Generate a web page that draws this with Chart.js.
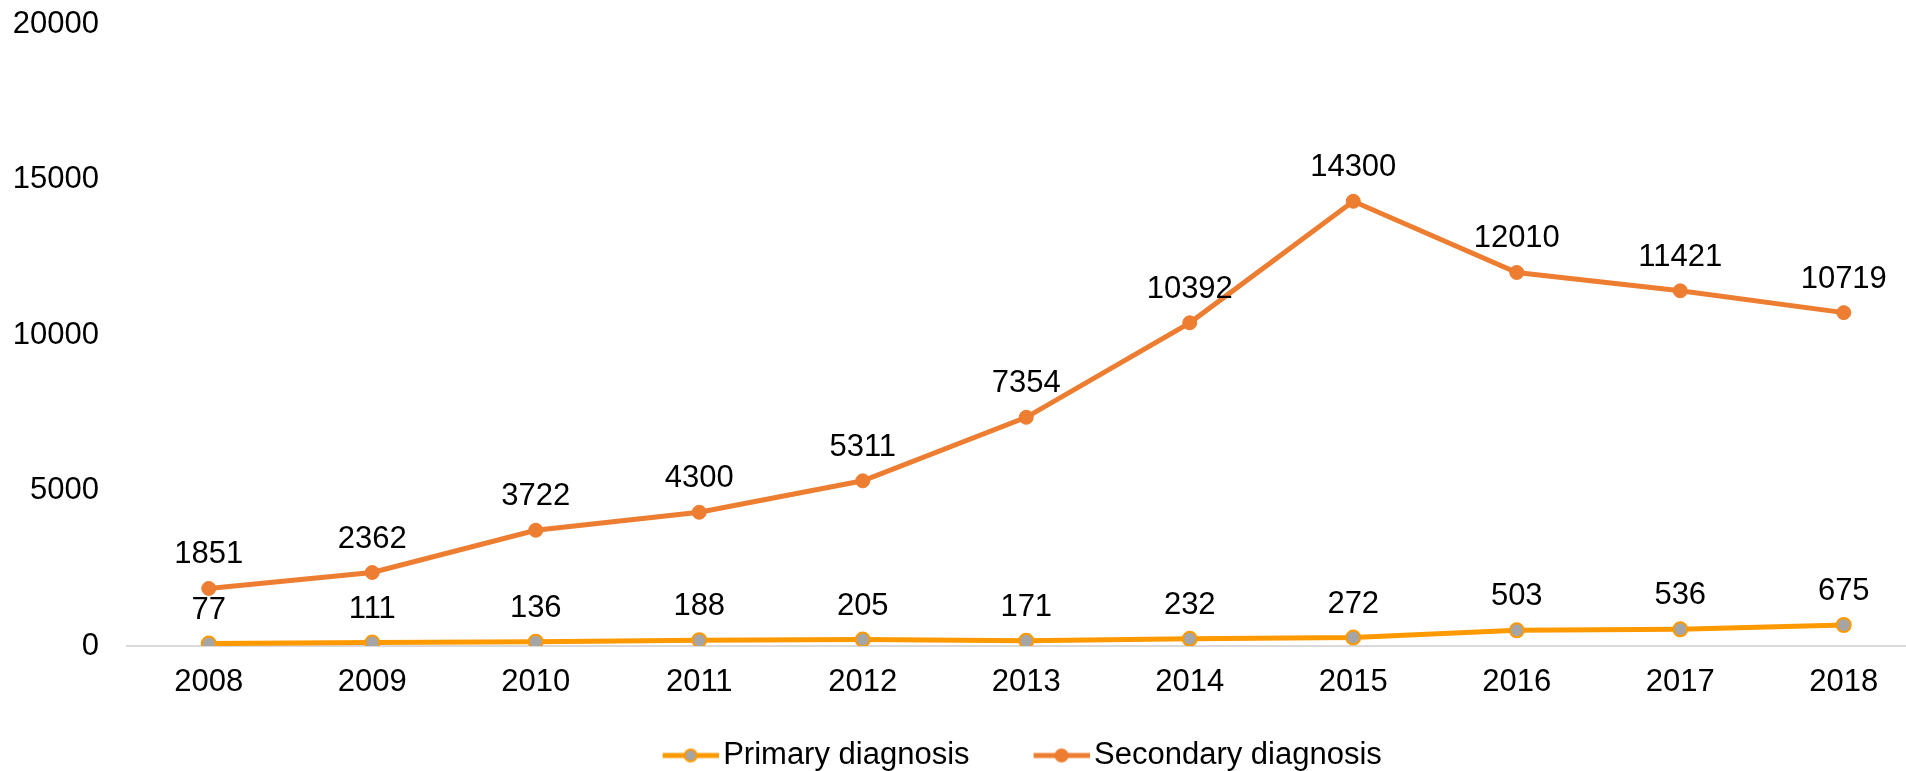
<!DOCTYPE html>
<html>
<head>
<meta charset="utf-8">
<script src="https://cdn.jsdelivr.net/npm/chart.js@4.4.0/dist/chart.umd.min.js"></script>
<style>
  html, body { margin: 0; padding: 0; background: #fff; overflow: hidden; }
  #wrap { position: relative; width: 1960px; height: 771px; }
</style>
</head>
<body>
<div id="wrap"><canvas id="chart_diag"></canvas></div>
<script>
const years = ["2008", "2009", "2010", "2011", "2012", "2013", "2014", "2015", "2016", "2017", "2018"];
const primary = [77, 111, 136, 188, 205, 171, 232, 272, 503, 536, 675];
const secondary = [1851, 2362, 3722, 4300, 5311, 7354, 10392, 14300, 12010, 11421, 10719];
const yTicks = [0, 5000, 10000, 15000, 20000];

const FONT = "'Liberation Sans', Arial, sans-serif";

// legend picture: empty space on the left, then line with a marker
function legendImg(line, fill, border) {
  const c = document.createElement("canvas");
  c.width = 108;
  c.height = 16;
  const g = c.getContext("2d");
  const x0 = 52;
  g.strokeStyle = line;
  g.lineWidth = 5;
  g.beginPath();
  g.moveTo(x0, 8);
  g.lineTo(x0 + 56, 8);
  g.stroke();
  g.beginPath();
  g.arc(x0 + 28, 8, 6, 0, Math.PI * 2);
  g.fillStyle = fill;
  g.fill();
  g.lineWidth = 2;
  g.strokeStyle = border;
  g.stroke();
  return c;
}
const legendPics = [
  legendImg("#FF9900", "#A5A5A5", "#FF9900"),
  legendImg("#ED7D31", "#ED7D31", "#ED7D31")
];

// values above each point
const pointLabels = {
  id: "pointLabels",
  afterDatasetsDraw(chart) {
    const ctx = chart.ctx;
    ctx.save();
    ctx.font = "31px " + FONT;
    ctx.fillStyle = "#000";
    ctx.textAlign = "center";
    ctx.textBaseline = "alphabetic";
    chart.data.datasets.forEach(function (ds, i) {
      chart.getDatasetMeta(i).data.forEach(function (pt, j) {
        ctx.fillText(String(ds.data[j]), pt.x, pt.y - 25);
      });
    });
    ctx.restore();
  }
};

const config = {
  type: "line",
  data: {
    labels: years,
    datasets: [
      {
        label: "Primary diagnosis",
        data: primary,
        borderColor: "#FF9900",
        backgroundColor: "#A5A5A5",
        pointBackgroundColor: "#A5A5A5",
        pointBorderColor: "#FF9900",
        pointBorderWidth: 2,
        pointRadius: 7,
        borderWidth: 5,
        tension: 0
      },
      {
        label: "Secondary diagnosis",
        data: secondary,
        borderColor: "#ED7D31",
        backgroundColor: "#ED7D31",
        pointBackgroundColor: "#ED7D31",
        pointBorderColor: "#ED7D31",
        pointBorderWidth: 1,
        pointRadius: 7,
        borderWidth: 5,
        tension: 0
      }
    ]
  },
  options: {
    responsive: true,
    maintainAspectRatio: false,
    animation: false,
    layout: { padding: { top: 24, left: 78, right: 34.5, bottom: -10 } },
    scales: {
      x: {
        offset: true,
        grid: { display: false, drawTicks: false },
        border: { display: true, color: "#D9D9D9", width: 2 },
        ticks: { color: "#000", font: { family: FONT, size: 31 }, padding: 18, maxRotation: 0 },
        afterFit: function (scale) { scale.height = 71; }
      },
      y: {
        min: 0,
        max: 20000,
        afterBuildTicks: function (scale) {
          scale.ticks = yTicks.map(function (v) { return { value: v }; });
        },
        grid: { display: false, drawTicks: false },
        border: { display: false },
        ticks: {
          color: "#000",
          font: { family: FONT, size: 31 },
          padding: 28,
          callback: function (v) { return String(v); }
        },
        afterFit: function (scale) {
          scale.width = 49;
          scale.paddingTop = 0;
          scale.paddingBottom = 0;
          // labels reach left of the narrow axis box, so do not clip them
          scale._computeLabelArea = function () { return undefined; };
        }
      }
    },
    plugins: {
      tooltip: { enabled: false },
      legend: {
        position: "bottom",
        labels: {
          color: "#000",
          font: { family: FONT, size: 31 },
          usePointStyle: true,
          pointStyleWidth: 86,
          padding: 23,
          generateLabels: function (chart) {
            const items = Chart.defaults.plugins.legend.labels.generateLabels(chart);
            items.forEach(function (it, i) { it.pointStyle = legendPics[i]; });
            return items;
          }
        }
      }
    }
  },
  plugins: [pointLabels]
};

var myChart = new Chart(document.getElementById("chart_diag"), config);
</script>
</body>
</html>
